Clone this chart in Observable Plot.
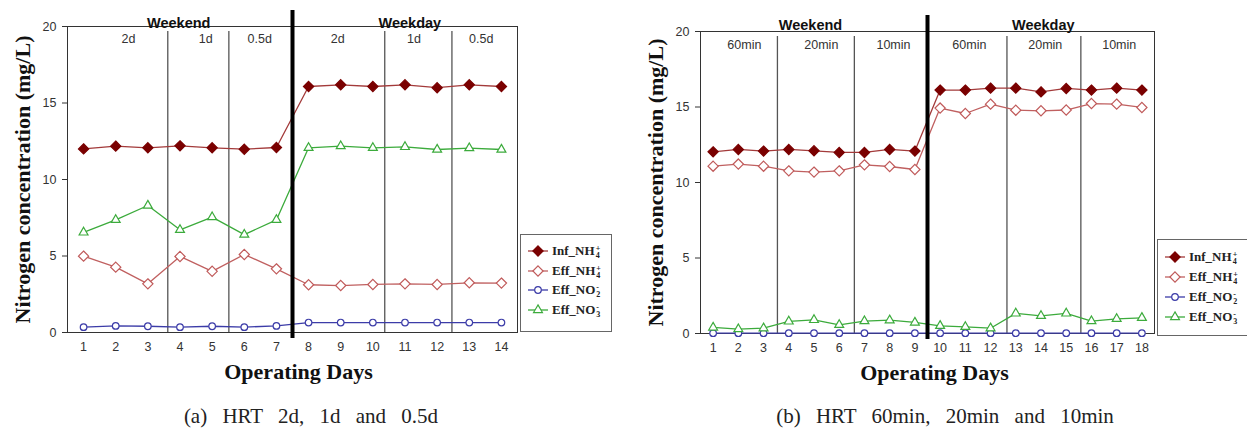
<!DOCTYPE html>
<html><head><meta charset="utf-8">
<script src="https://cdn.jsdelivr.net/npm/d3@7"></script>
<script src="https://cdn.jsdelivr.net/npm/@observablehq/plot@0.6"></script>
<style>
body{margin:0;background:#fff;width:1247px;height:434px;overflow:hidden;position:relative;font-family:"Liberation Sans",Arial,sans-serif}
.panel{position:absolute;top:0}
.caption{position:absolute;top:404px;font-family:"Liberation Serif",serif;font-size:21px;word-spacing:10px;transform:translateX(-50%);white-space:nowrap;color:#222}
.legend{position:absolute;border:1.5px solid #666;background:#fff;box-sizing:border-box;font-family:"Liberation Serif",serif;font-weight:bold;font-size:13px;color:#222}
.legend .row{position:absolute;left:6px;height:16px;display:flex;align-items:center;white-space:nowrap}
.legend svg{margin-right:3px}
.ss{display:inline-block;vertical-align:middle;line-height:7px;font-size:8px;margin-left:1px}
.ss span{display:block}
</style>
</head><body>
<script>
// ---------- data ----------
const daysA = [1,2,3,4,5,6,7,8,9,10,11,12,13,14];
const infNH4_A = [12.0,12.18,12.07,12.2,12.07,11.98,12.09,16.08,16.19,16.08,16.19,16.0,16.19,16.08];
const effNH4_A = [4.99,4.27,3.18,4.97,4.0,5.1,4.16,3.12,3.07,3.14,3.18,3.14,3.25,3.23];
const effNO2_A = [0.35,0.43,0.41,0.35,0.41,0.35,0.43,0.65,0.65,0.65,0.65,0.65,0.65,0.65];
const effNO3_A = [6.54,7.36,8.3,6.71,7.54,6.4,7.36,12.07,12.18,12.07,12.13,11.96,12.05,11.96];

const daysB = [1,2,3,4,5,6,7,8,9,10,11,12,13,14,15,16,17,18];
const infNH4_B = [12.03,12.19,12.08,12.19,12.1,11.99,11.99,12.19,12.08,16.12,16.12,16.25,16.25,16.0,16.23,16.12,16.25,16.12];
const effNH4_B = [11.08,11.22,11.08,10.77,10.69,10.77,11.17,11.06,10.86,14.93,14.57,15.19,14.79,14.75,14.8,15.23,15.19,14.97];
const effNO2_B = [0.02,0.02,0.02,0.02,0.02,0.02,0.02,0.02,0.02,0.02,0.02,0.02,0.02,0.02,0.02,0.02,0.02,0.02];
const effNO3_B = [0.4,0.29,0.35,0.8,0.9,0.57,0.82,0.88,0.73,0.51,0.44,0.35,1.33,1.17,1.33,0.82,0.97,1.04];

const yTicks = [0,5,10,15,20];
const groupLabels = ["Weekend","Weekday"];
const groupPosA = [3.96,11.15];
const groupPosB = [4.86,14.09];
const subLabelsA = ["2d","1d","0.5d","2d","1d","0.5d"];
const subPosA = [2.4,4.8,6.48,8.91,11.28,13.37];
const subLabelsB = ["60min","20min","10min","60min","20min","10min"];
const subPosB = [2.24,5.29,8.15,11.16,14.17,17.1];
const dividersA = [3.62,5.52,10.37,12.46];
const dividersB = [3.55,6.6,12.65,15.58];
const switchA = 7.5, switchB = 9.5;

const seriesKeys = ["Inf_NH4+","Eff_NH4+","Eff_NO2-","Eff_NO3-"];
const styles = {
  "Inf_NH4+": {line:"#a33a3a", stroke:"#7a0000", fill:"#7a0000", symbol:"diamond2", r:4.6},
  "Eff_NH4+": {line:"#c06060", stroke:"#c05a5a", fill:"#fff", symbol:"diamond2", r:4.6},
  "Eff_NO2-": {line:"#3c3ca8", stroke:"#3c3ca8", fill:"#fff", symbol:"circle", r:3.3},
  "Eff_NO3-": {line:"#3cab3c", stroke:"#3cab3c", fill:"#fff", symbol:"triangle", r:3.3}
};

function panel(o){
  const marks = [Plot.frame({stroke:"#333", strokeWidth:1})];
  marks.push(Plot.ruleX(o.dividers, {stroke:"#555", strokeWidth:1.3, insetTop:5}));
  o.series.forEach((vals, k) => {
    const key = seriesKeys[k], st = styles[key];
    const rows = o.days.map((d,i) => ({day:d, value:vals[i]}));
    marks.push(Plot.line(rows, {x:"day", y:"value", stroke:st.line, strokeWidth:1.3}));
    marks.push(Plot.dot(rows, {x:"day", y:"value", symbol:()=>st.symbol, r:st.r, stroke:st.stroke, fill:st.fill, strokeWidth:1.2}));
  });
  marks.push(Plot.ruleX([o.switchAt], {stroke:"#000", strokeWidth:4, insetTop:-16, insetBottom:-6}));
  const gl = groupLabels.map((t,i)=>({t, x:o.groupPos[i]}));
  marks.push(Plot.text(gl, {x:"x", text:"t", frameAnchor:"top", dy:o.groupDy, fontWeight:"bold", fontSize:14.5, fill:"#111"}));
  const sl = o.subLabels.map((t,i)=>({t, x:o.subPos[i]}));
  marks.push(Plot.text(sl, {x:"x", text:"t", frameAnchor:"top", dy:o.subDy, fontSize:12.5, fill:"#333"}));
  marks.push(Plot.axisY({ticks:yTicks, tickSize:5, tickPadding:6, fontSize:12.5, label:null, tickFormat:d=>d, color:"#333"}));
  marks.push(Plot.axisX({ticks:o.days, tickSize:0, tickPadding:10, fontSize:12.5, label:null, tickFormat:d=>d, color:"#333"}));
  marks.push(Plot.text(["Operating Days"], {frameAnchor:"bottom", dy:46, dx:o.xTitleDx, fontFamily:"Liberation Serif, serif", fontWeight:"bold", fontSize:22, fill:"#111"}));
  marks.push(Plot.text(["Nitrogen concentration (mg/L)"], {frameAnchor:"left", textAnchor:"middle", rotate:-90, dx:o.yTitleDx, fontFamily:"Liberation Serif, serif", fontWeight:"bold", fontSize:22, fill:"#111"}));
  return Plot.plot({
    width:o.width, height:o.height,
    marginLeft:o.ml, marginRight:o.mr, marginTop:o.mt, marginBottom:o.mb,
    x:{domain:o.xDomain, axis:null},
    y:{domain:[0,20], axis:null},
    style:{fontFamily:"Liberation Sans, Arial, sans-serif", background:"#fff", overflow:"visible"},
    marks
  });
}

const a = panel({days:daysA, series:[infNH4_A,effNH4_A,effNO2_A,effNO3_A], xDomain:[0.5,14.5],
  dividers:dividersA, switchAt:switchA, groupPos:groupPosA, subLabels:subLabelsA, subPos:subPosA,
  width:623, height:395, ml:67, mr:106, mt:26, mb:63, groupDy:-9, subDy:8, xTitleDx:6, yTitleDx:-45});
const b = panel({days:daysB, series:[infNH4_B,effNH4_B,effNO2_B,effNO3_B], xDomain:[0.5,18.5],
  dividers:dividersB, switchAt:switchB, groupPos:groupPosB, subLabels:subLabelsB, subPos:subPosB,
  width:623, height:395, ml:77, mr:92, mt:31, mb:62, groupDy:-12, subDy:9, xTitleDx:7, yTitleDx:-45});

function place(el, left){ const d=document.createElement("div"); d.className="panel"; d.style.left=left+"px"; d.appendChild(el); document.body.appendChild(d); }
place(a, 0); place(b, 623);

function caption(text, cx){ const d=document.createElement("div"); d.className="caption"; d.style.left=cx+"px"; d.textContent=text; document.body.appendChild(d); }
caption("(a) HRT 2d, 1d and 0.5d", 311);
caption("(b) HRT 60min, 20min and 10min", 945);

const legendHTML = {
  "Inf_NH4+": 'Inf_NH<span class="ss"><span>+</span><span>4</span></span>',
  "Eff_NH4+": 'Eff_NH<span class="ss"><span>+</span><span>4</span></span>',
  "Eff_NO2-": 'Eff_NO<span class="ss"><span>-</span><span>2</span></span>',
  "Eff_NO3-": 'Eff_NO<span class="ss"><span>-</span><span>3</span></span>'
};
const symMap = {diamond2:d3.symbolDiamond2, circle:d3.symbolCircle, triangle:d3.symbolTriangle};
function legend(left, top, w, h, first, step){
  const box = document.createElement("div"); box.className="legend";
  Object.assign(box.style, {left:left+"px", top:top+"px", width:w+"px", height:h+"px"});
  seriesKeys.forEach((k,i)=>{
    const st = styles[k];
    const row = document.createElement("div"); row.className="row"; row.style.top=(first+i*step-8)+"px";
    const path = d3.symbol(symMap[st.symbol], Math.PI*st.r*st.r)();
    row.innerHTML = `<svg width="22" height="14"><line x1="1" x2="21" y1="7" y2="7" stroke="${st.line}" stroke-width="1.3"/><path d="${path}" transform="translate(11,7)" fill="${st.fill}" stroke="${st.stroke}" stroke-width="1.2"/></svg><span>${legendHTML[k]}</span>`;
    box.appendChild(row);
  });
  document.body.appendChild(box);
}
legend(520, 234, 92, 98, 16, 19.5);
legend(1157, 239, 100, 97, 17, 20);
</script>
</body></html>
